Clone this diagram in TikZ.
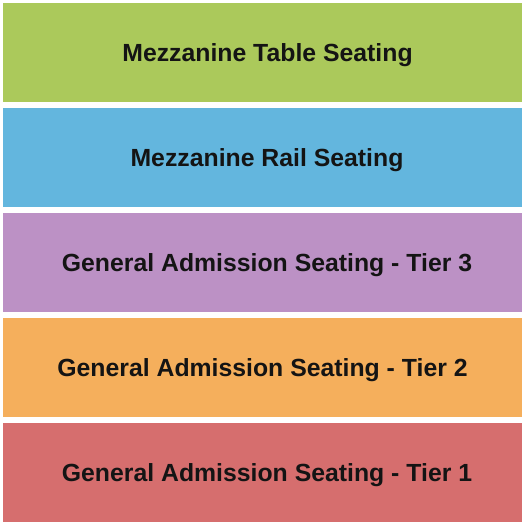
\documentclass[tikz,border=0pt]{standalone}
\usepackage{fontspec}
\setmainfont{Liberation Sans}
\definecolor{cgreen}{HTML}{ABC95B}
\definecolor{cblue}{HTML}{63B6DE}
\definecolor{cpurple}{HTML}{BC91C5}
\definecolor{corange}{HTML}{F5AF5C}
\definecolor{cred}{HTML}{D66E6E}
\definecolor{ctext}{HTML}{141414}
\begin{document}
\begin{tikzpicture}[x=1pt,y=-1pt,
  band/.style={draw=none,minimum width=519pt,minimum height=98.5pt,inner sep=0pt,anchor=north west},
  lbl/.style={inner sep=0pt,anchor=base,font=\fontsize{24.8}{28}\selectfont\bfseries,text=ctext}]
\useasboundingbox (0,0) rectangle (525,525);
\fill[white] (0,0) rectangle (525,525);
\node[band,fill=cgreen]  (b1) at (3,3)   {};
\node[band,fill=cblue]   (b2) at (3,108) {};
\node[band,fill=cpurple] (b3) at (3,213) {};
\node[band,fill=corange] (b4) at (3,318) {};
\node[band,fill=cred]    (b5) at (3,423) {};
\node[lbl] (t1) at (267.5,61.7)  {Mezzanine Table Seating};
\node[lbl] (t2) at (267,166.7)   {Mezzanine Rail Seating};
\node[lbl] (t3) at (267,271.7)   {General Admission Seating - Tier 3};
\node[lbl] (t4) at (262.5,376.7) {General Admission Seating - Tier 2};
\node[lbl] (t5) at (267,481.7)   {General Admission Seating - Tier 1};
\end{tikzpicture}
\end{document}
